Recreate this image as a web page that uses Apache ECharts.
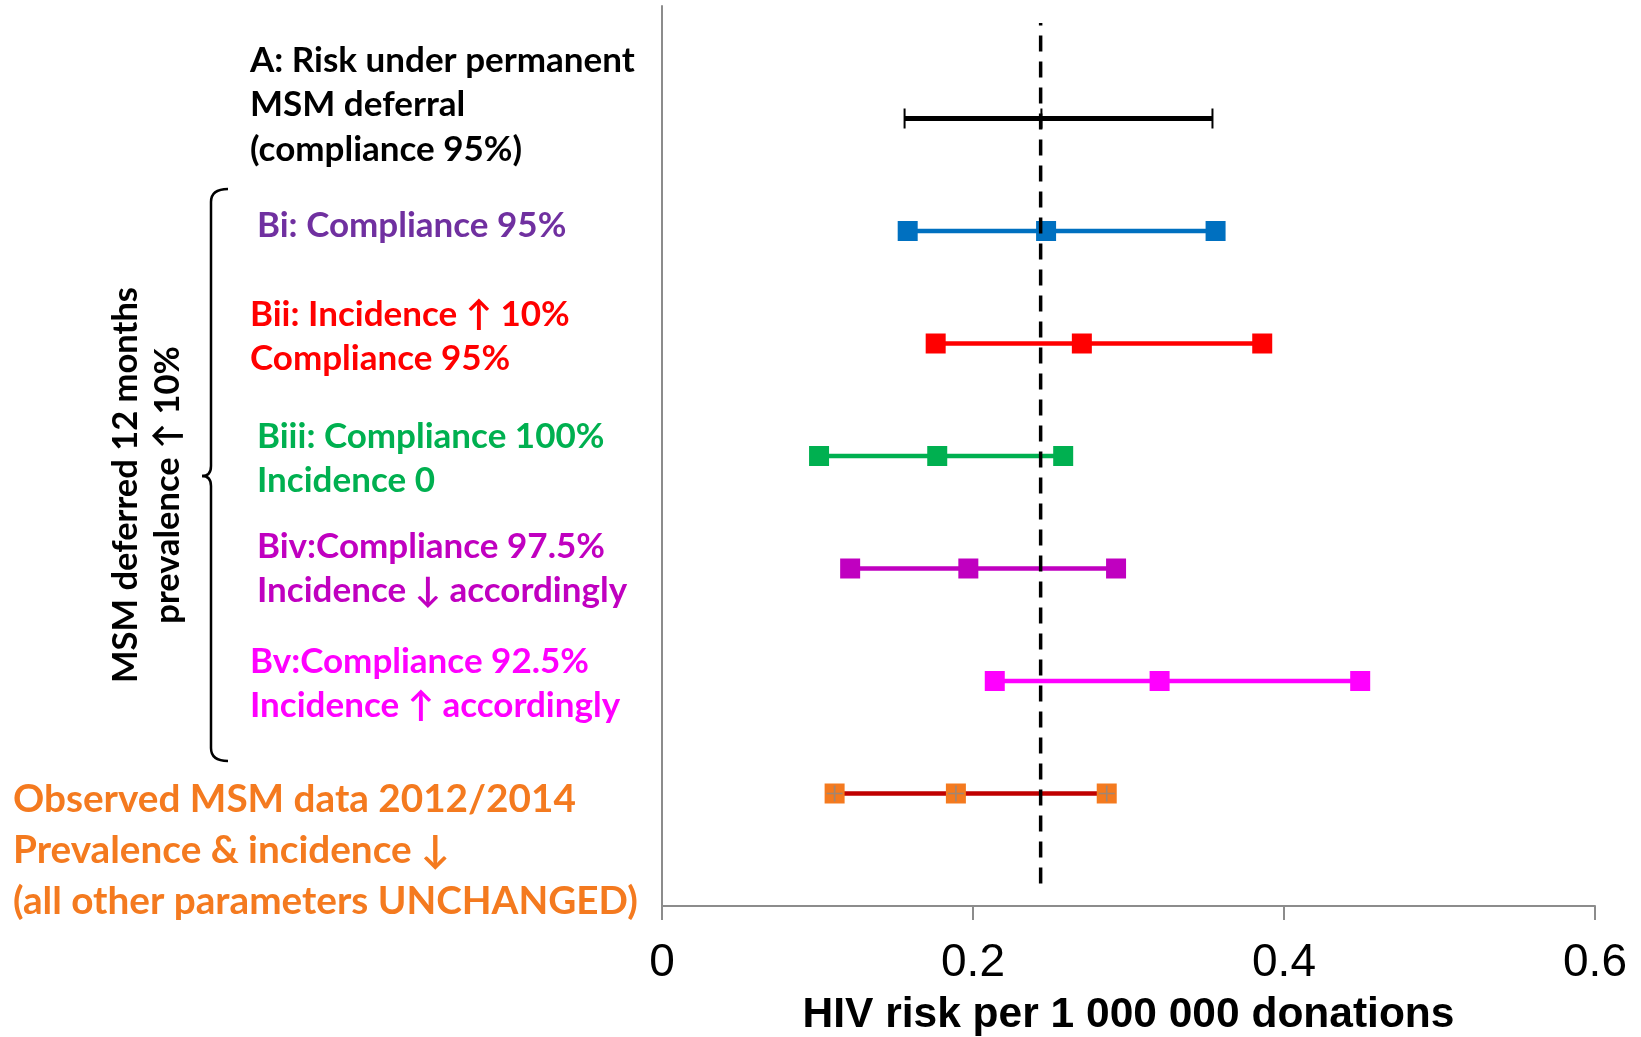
<!DOCTYPE html>
<html>
<head>
<meta charset="utf-8">
<script src="https://cdn.jsdelivr.net/npm/echarts@6/dist/echarts.min.js"></script>
<style>
  html, body { margin: 0; padding: 0; background: #fff; }
  #main { width: 1641px; height: 1037px; }
</style>
</head>
<body>
<div id="main"></div>
<script>
// scenario rows, top to bottom
const rowNames = ['A', 'Bi', 'Bii', 'Biii', 'Biv', 'Bv', 'Observed'];
const rowPos = [7, 6, 5, 4, 3, 2, 1];
const lows = [0.156, 0.158, 0.176, 0.101, 0.121, 0.214, 0.111];
const mids = [0.244, 0.247, 0.270, 0.177, 0.197, 0.320, 0.189];
const highs = [0.354, 0.356, 0.386, 0.258, 0.292, 0.449, 0.286];
const lineColors = ['#000000', '#0070C0', '#FF0000', '#00B050', '#C000C0', '#FF00FF', '#C00000'];
const markColors = ['#000000', '#0070C0', '#FF0000', '#00B050', '#C000C0', '#FF00FF', '#F47A1F'];
const threshold = 0.2435;
const xTicks = [0, 0.2, 0.4, 0.6];

const labelFont = 'Lato, "Open Sans", sans-serif';
const narrowFont = '"Liberation Sans Narrow", "Arial Narrow", "Liberation Sans", sans-serif';

var myChart = echarts.init(document.getElementById('main'));

var series = rowNames.map(function (name, i) {
  var isA = i === 0;
  return {
    name: name,
    type: 'line',
    data: [[lows[i], rowPos[i]], [mids[i], rowPos[i]], [highs[i], rowPos[i]]],
    symbol: 'rect',
    symbolSize: isA ? [2, 20] : 20,
    showAllSymbol: true,
    lineStyle: { color: lineColors[i], width: isA ? 5 : 4.5 },
    itemStyle: { color: markColors[i] },
    z: 2,
    animation: false
  };
});

// grey plus over the observed markers
var obs = rowNames.length - 1;
series.push({
  name: 'obsPlus',
  type: 'scatter',
  data: [[lows[obs], rowPos[obs]], [mids[obs], rowPos[obs]], [highs[obs], rowPos[obs]]],
  symbol: 'path://M9,0h2v20h-2z M0,9h20v2h-20z',
  symbolSize: 16,
  itemStyle: { color: '#8a8a8a' },
  z: 3,
  animation: false
});

// dashed reference line
series.push({
  name: 'threshold',
  type: 'line',
  data: [[threshold, 0.2], [threshold, 7.85]],
  symbol: 'none',
  lineStyle: { color: '#000', width: 3.5, type: [16, 10] },
  z: 5,
  animation: false
});

function txt(x, y, text, color, size, lh) {
  return {
    type: 'text', x: x, y: y,
    style: {
      text: text, fill: color,
      font: 'bold ' + size + 'px ' + labelFont,
      lineHeight: lh
    }
  };
}

var braceStyle = { fill: 'none', stroke: '#000', lineWidth: 2.5 };
function seg(x1, y1, x2, y2) {
  return { type: 'line', shape: { x1: x1, y1: y1, x2: x2, y2: y2 }, style: braceStyle };
}
function curve(x1, y1, cx, cy, x2, y2) {
  return { type: 'bezierCurve', shape: { x1: x1, y1: y1, cpx1: cx, cpy1: cy, x2: x2, y2: y2 }, style: braceStyle };
}

var option = {
  backgroundColor: '#fff',
  grid: { left: 662, right: 46, top: 6, bottom: 131, containLabel: false, outerBoundsMode: 'none' },
  xAxis: {
    type: 'value',
    min: xTicks[0],
    max: xTicks[xTicks.length - 1],
    interval: 0.2,
    name: 'HIV risk per 1 000 000 donations',
    nameLocation: 'middle',
    nameGap: 88,
    nameTextStyle: { fontFamily: narrowFont, fontWeight: 'bold', fontSize: 42.5, color: '#000' },
    axisLine: { lineStyle: { color: '#8c8c8c', width: 2 } },
    axisTick: { show: true, length: 14, lineStyle: { color: '#8c8c8c', width: 2 } },
    axisLabel: {
      margin: 34, fontFamily: narrowFont, fontSize: 46, color: '#000',
      formatter: function (v) { return String(v); }
    },
    splitLine: { show: false }
  },
  yAxis: {
    type: 'value',
    min: 0,
    max: 8,
    axisLine: { show: true, lineStyle: { color: '#8c8c8c', width: 2 } },
    axisTick: { show: false },
    axisLabel: { show: false },
    splitLine: { show: false }
  },
  graphic: [
    txt(250, 38, 'A: Risk under permanent\nMSM deferral\n(compliance 95%)', '#000000', 35, 44.5),
    txt(257, 203, 'Bi: Compliance 95%', '#7030A0', 35, 44.5),
    txt(250, 292, 'Bii: Incidence \u2191 10%\nCompliance 95%', '#FF0000', 35, 44.5),
    txt(257, 414, 'Biii: Compliance 100%\nIncidence 0', '#00B050', 35, 44.5),
    txt(257, 524, 'Biv:Compliance 97.5%\nIncidence \u2193 accordingly', '#C000C0', 35, 44.5),
    txt(250, 639, 'Bv:Compliance 92.5%\nIncidence \u2191 accordingly', '#FF00FF', 35, 44.5),
    txt(13, 774, 'Observed MSM data 2012/2014\nPrevalence & incidence \u2193\n(all other parameters UNCHANGED)', '#F47A1F', 38.7, 51),
    {
      type: 'text',
      x: 147, y: 485,
      rotation: Math.PI / 2,
      style: {
        text: 'MSM deferred 12 months\nprevalence \u2191 10%',
        fill: '#000',
        font: 'bold 34.5px ' + labelFont,
        lineHeight: 42,
        align: 'center',
        verticalAlign: 'middle'
      }
    },
    curve(228, 189, 211, 189, 211, 202),
    seg(211, 202, 211, 466),
    curve(211, 466, 211, 476, 202, 476),
    curve(202, 476, 211, 476, 211, 486),
    seg(211, 486, 211, 748),
    curve(211, 748, 211, 761, 228, 761)
  ],
  series: series
};

option && myChart.setOption(option);
</script>
</body>
</html>
